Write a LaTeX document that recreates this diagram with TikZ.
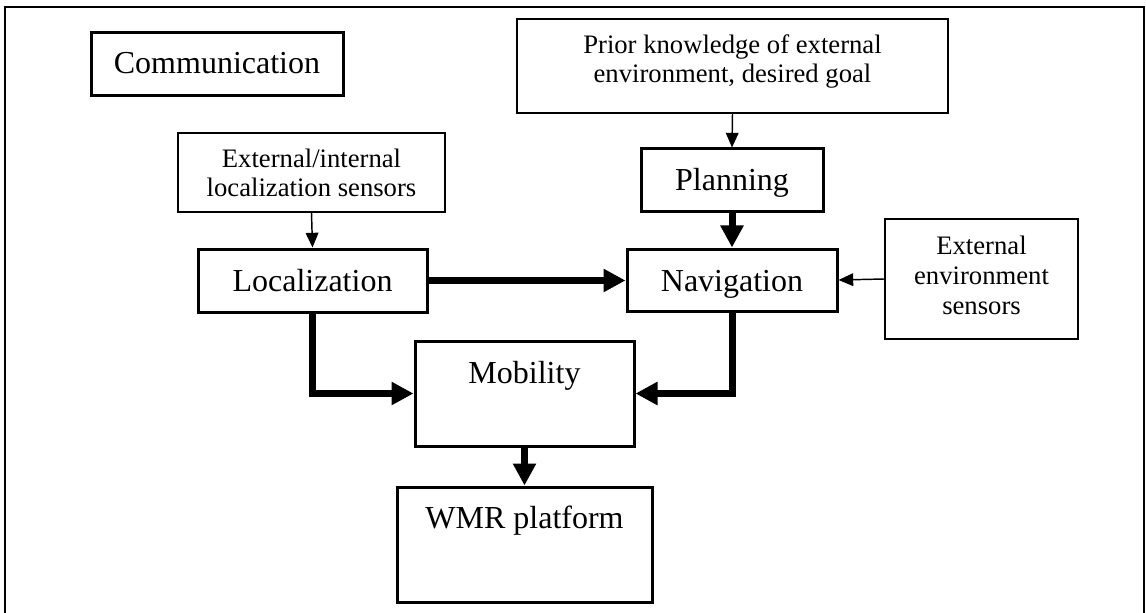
\documentclass[tikz,border=0pt]{standalone}
\usepackage{fontspec}
\setmainfont{Liberation Serif}
\usetikzlibrary{arrows.meta}
\newcommand{\pxu}{0.75pt}
\begin{document}
\begin{tikzpicture}[x=0.75pt,y=-0.75pt,
 thickbox/.style={draw, line width=2.25pt, inner sep=0pt},
 thinbox/.style={draw, line width=1.2pt, inner sep=0pt},
 big/.style={font=\fontsize{24}{28}\selectfont, inner sep=0pt, anchor=base},
 small/.style={font=\fontsize{20}{22}\selectfont, inner sep=0pt, anchor=base},
 thickarrow/.style={line width=5.25pt, line join=miter, -{Triangle[length=16.5pt,width=16.5pt]}},
 thinarrow/.style={line width=1.1pt, -{Triangle[length=11pt,width=9.5pt]}},
 frame/.style={line width=1.5pt}
]
\useasboundingbox (0,0) rectangle (1146,613);
\draw[frame] (5,625) -- (5,7) -- (1144,7) -- (1144,625);

% boxes
\node[thickbox, minimum width=252*\pxu, minimum height=63*\pxu] (comm) at (217,64.5) {};
\node[thinbox, minimum width=267*\pxu, minimum height=79*\pxu] (extint) at (311.5,172.5) {};
\node[thickbox, minimum width=229*\pxu, minimum height=63*\pxu] (loc) at (312.5,280.5) {};
\node[thinbox, minimum width=431*\pxu, minimum height=94*\pxu] (prior) at (732.5,66) {};
\node[thickbox, minimum width=182*\pxu, minimum height=63*\pxu] (plan) at (732,180.5) {};
\node[thickbox, minimum width=210*\pxu, minimum height=62*\pxu] (nav) at (732,280) {};
\node[thinbox, minimum width=193*\pxu, minimum height=120*\pxu] (env) at (981.5,279) {};
\node[thickbox, minimum width=219*\pxu, minimum height=105*\pxu] (mob) at (524.5,393.5) {};
\node[thickbox, minimum width=255*\pxu, minimum height=115*\pxu] (wmr) at (524.5,544.5) {};

% texts
\node[big] (commt) at (217,74) {Communication};
\node[small] (extint1) at (311.5,168) {External/internal};
\node[small] (extint2) at (311.5,197) {localization sensors};
\node[big] (loct) at (312.5,291) {Localization};
\node[small] (prior1) at (732.5,54) {Prior knowledge of external};
\node[small] (prior2) at (732.5,83) {environment, desired goal};
\node[big] (plant) at (732,191) {Planning};
\node[big] (navt) at (732,291) {Navigation};
\node[small] (env1) at (981.5,254) {External};
\node[small] (env2) at (981.5,284) {environment};
\node[small] (env3) at (981.5,314) {sensors};
\node[big] (mobt) at (524.5,383) {Mobility};
\node[big] (wmrt) at (524.5,528) {WMR platform};

% connectors
\draw[thinarrow] (extint.south) -- (loc.north);
\draw[thinarrow] (prior.south) -- (plan.north);
\draw[thinarrow] (env.west) -- (nav.east);
\draw[thickarrow] (plan.south) -- (nav.north);
\draw[thickarrow] (loc.east) -- (loc.east -| nav.west);
\draw[thickarrow] (loc.south) |- (mob.west);
\draw[thickarrow] (nav.south) |- (mob.east);
\draw[thickarrow] (mob.south) -- (wmr.north);
\end{tikzpicture}
\end{document}
